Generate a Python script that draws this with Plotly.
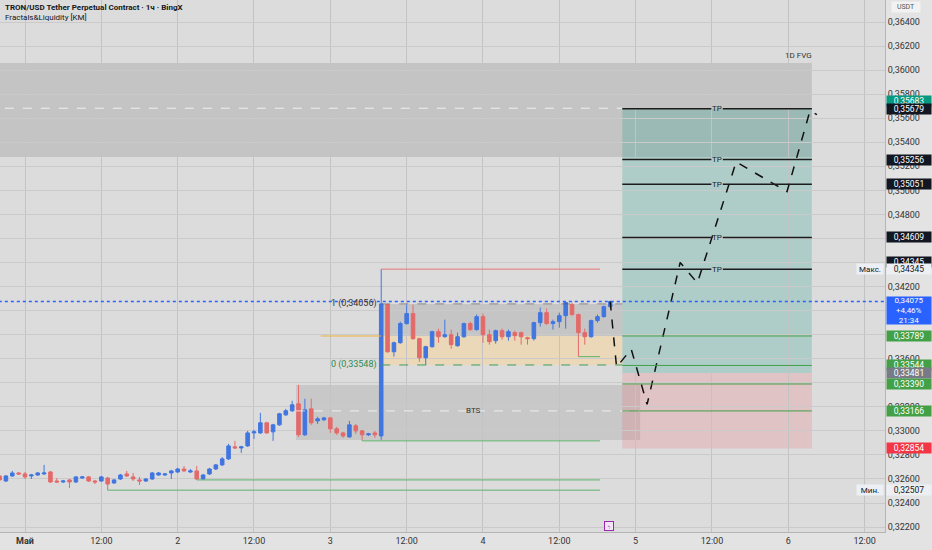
import plotly.graph_objects as go
import pandas as pd

# ---------------- data ----------------
BASE = pd.Timestamp("2025-05-01 00:00")
hours = list(range(-4, 93))  # 1h candles, hour offsets from 1 May 00:00

opens = [
    .32625, .32583, .32625, .3265, .32642, .32625, .32633, .32642, .32658, .32583,
    .32575, .32592, .32575, .32608, .32617, .32583, .32583, .32608, .32567, .326,
    .32642, .32617, .32592, .32583, .326, .32633, .32633, .3265, .32658, .32683,
    .32658, .32667, .326, .32642, .32683, .32717, .32767, .32867, .32858, .32875,
    .32983, .32983, .33067, .32992, .3305, .33133, .33167, .33225, .32967, .33183,
    .33083, .33092, .33108, .33017, .32983, .3295, .33042, .33, .32967, .32983,
    .32958, .3405, .33658, .33733, .33892, .33975, .33767, .33608, .337, .33825,
    .33783, .338, .33708, .33783, .33892, .33842, .3395, .338, .3375, .33833,
    .33783, .33817, .33817, .33775, .33767, .339, .33983, .33892, .33908, .33958,
    .3405, .33967, .33817, .33783, .33917, .3395, .34033]
highs = [
    .32633, .32633, .32667, .32658, .32658, .32642, .32658, .32717, .32667, .32608,
    .32592, .326, .32625, .32625, .32625, .32592, .32625, .32617, .326, .32642,
    .32667, .3265, .32617, .32608, .32658, .32658, .3265, .32675, .32692, .32708,
    .32683, .32708, .32642, .32692, .32725, .32783, .32892, .32917, .32875, .33,
    .33008, .3315, .33075, .33058, .3315, .33183, .3325, .33383, .33267, .33267,
    .33117, .33117, .33117, .33033, .32992, .33083, .33058, .33008, .32983, .33,
    .34345, .34056, .33742, .33908, .3405, .3405, .33775, .33708, .33833, .3385,
    .33925, .33842, .33817, .339, .33908, .33967, .33975, .33842, .33842, .3385,
    .33842, .33833, .33825, .33783, .33908, .34025, .34017, .33925, .33983, .34075,
    .34067, .33975, .3385, .33925, .33967, .34042, .34083]
lows = [
    .32583, .32575, .32617, .32633, .326, .326, .32625, .32633, .32567, .32567,
    .32567, .32525, .32567, .326, .32575, .32558, .32575, .32507, .32558, .32592,
    .32617, .32583, .3255, .32575, .32592, .32625, .32625, .326, .3265, .32658,
    .3265, .32592, .32592, .32633, .32675, .32708, .32758, .3285, .32817, .32867,
    .32933, .32975, .32975, .32917, .33042, .33125, .33158, .3295, .32958, .3305,
    .33058, .33083, .32983, .32967, .32942, .32942, .32975, .32917, .32958, .32942,
    .32925, .3365, .33617, .33725, .33883, .33758, .33575, .33548, .33692, .33733,
    .33775, .33683, .337, .33775, .33833, .33833, .33733, .33717, .33725, .33758,
    .3375, .3375, .33717, .33717, .3375, .33867, .33883, .33842, .33858, .3385,
    .33958, .33617, .33717, .33775, .339, .33942, .34025]
closes = [
    .32592, .32625, .3265, .32642, .32617, .32633, .3265, .3265, .32575, .32575,
    .32583, .32575, .32617, .32617, .32583, .32575, .32617, .32558, .32592, .32633,
    .32625, .326, .32583, .326, .3265, .3265, .32642, .32667, .32683, .32667,
    .32667, .326, .32633, .32683, .32717, .32767, .32875, .32858, .32867, .32983,
    .32992, .33067, .32983, .3305, .33142, .33167, .33217, .32967, .33175, .33067,
    .331, .33108, .33017, .32983, .32958, .3305, .33, .32967, .32975, .32967,
    .34056, .33658, .33733, .33892, .33975, .33767, .33608, .337, .33825, .33783,
    .338, .33717, .33783, .33892, .33842, .3395, .338, .33742, .33833, .33783,
    .33825, .33792, .33783, .33767, .339, .33983, .33892, .33908, .33958, .34067,
    .33967, .33817, .33783, .33917, .3395, .34033, .34075]

# projected path (hours, price)
proj_hours = [92, 93, 95.3, 97.8, 103, 105.7, 111.8, 119.8, 123.4, 124.5]
proj_prices = [0.34075, 0.3353, 0.3368, 0.3322, 0.3440, 0.3423, 0.35236, 0.3499, 0.3566, 0.3563]

tp_levels = [0.35679, 0.35256, 0.35051, 0.34609, 0.34345]
green_levels = [0.33789, 0.33544, 0.33390, 0.33166]
entry_price = 0.33481
stop_price = 0.32854
last_price = 0.34075
max_price = 0.34345
min_price = 0.32507
range_top = 0.34056
range_mid = 0.33789
range_bot = 0.33548
fvg_top, fvg_mid, fvg_bot = 0.36059, 0.35683, 0.35277
bts_top, bts_mid, bts_bot = 0.33381, 0.33166, 0.32925

tick_hours = list(range(0, 133, 12))
tick_text = ["<b>Май</b>", "12:00", "2", "12:00", "3", "12:00", "4", "12:00", "5", "12:00", "6", "12:00"]

price_ticks = [0.322, 0.324, 0.326, 0.328, 0.330, 0.332, 0.334, 0.336, 0.338, 0.340, 0.342,
               0.344, 0.346, 0.348, 0.350, 0.352, 0.354, 0.356, 0.358, 0.360, 0.362, 0.364]
price_tick_text = ["0,32200", "0,32400", "0,32600", "0,32800", "0,33000", "0,33200", "", "0,33600", "",
                   "", "0,34200", "", "", "0,34800", "0,35000", "0,35200", "0,35400", "0,35600",
                   "0,35800", "0,36000", "0,36200", "0,36400"]

# ---------------- helpers ----------------
def t(h):
    return BASE + pd.Timedelta(hours=h)

BLUE = "#4176e0"
RED = "#e46a6a"
FONT = "Roboto"

shapes = []

def rect(h0, h1, p0, p1, fill, layer="below"):
    shapes.append(dict(type="rect", xref="x", yref="y", x0=t(h0), x1=t(h1), y0=p0, y1=p1,
                       fillcolor=fill, line=dict(width=0), layer=layer))

def hline(h0, h1, p, color, width=1, dash="solid", layer="above"):
    shapes.append(dict(type="line", xref="x", yref="y", x0=t(h0), x1=t(h1), y0=p, y1=p,
                       line=dict(color=color, width=width, dash=dash), layer=layer))

BOX_L, BOX_R = 93.9, 123.7

# zones
rect(-6, BOX_R, fvg_bot, fvg_top, "rgba(135,135,135,0.28)")
hline(-6, BOX_L, fvg_mid, "rgba(255,255,255,0.75)", 1, "dash")
rect(42.6, 96.7, bts_bot, bts_top, "rgba(120,120,120,0.20)")
hline(42.6, 96.7, bts_mid, "rgba(255,255,255,0.7)", 1, "dash")
rect(BOX_L, BOX_R, entry_price, tp_levels[0], "rgba(8,153,129,0.21)")
rect(BOX_L, BOX_R, stop_price, entry_price, "rgba(242,54,69,0.15)")
rect(56, BOX_L, range_mid, range_top, "rgba(120,120,120,0.22)")
rect(56, BOX_L, range_bot, range_mid, "rgba(255,210,130,0.40)")

# liquidity / fractal lines
hline(56, 90.4, max_price, "#e57373", 1)
hline(53, 90.4, 0.32917, "#5cb36a", 1)
hline(27, 90.4, 0.32592, "#5cb36a", 1)
hline(13, 90.4, min_price, "#5cb36a", 1)
hline(87, 90.4, 0.33617, "#5cb36a", 1)
hline(46.5, 56, range_mid, "#f2b33d", 1)
hline(56, BOX_L, range_top, "rgba(90,90,90,0.6)", 1, "dash")
hline(56, BOX_L, range_bot, "#3f9e5a", 1, "dash")

# TP lines with gap for label
for lv in tp_levels:
    hline(BOX_L, 107.9, lv, "#1c1c1c", 1.5)
    hline(109.7, BOX_R, lv, "#1c1c1c", 1.5)
for lv in green_levels:
    hline(BOX_L, BOX_R, lv, "#43a047", 1)

# current price dotted line
hline(-6, 140, last_price, "#2962ff", 1.5, "dot")

fig = go.Figure()
fig.add_trace(go.Candlestick(
    x=[t(h) for h in hours], open=opens, high=highs, low=lows, close=closes,
    increasing=dict(line=dict(color=BLUE, width=1), fillcolor=BLUE),
    decreasing=dict(line=dict(color=RED, width=1), fillcolor=RED),
    whiskerwidth=0, showlegend=False, hoverinfo="skip"))

fig.add_trace(go.Scatter(
    x=[t(h) for h in proj_hours], y=proj_prices, mode="lines",
    line=dict(color="#111111", width=1.5, dash="dash"), showlegend=False, hoverinfo="skip"))

ann = []

def txt(h, p, s, size=8, color="#333333", xanchor="center", yanchor="middle", **kw):
    ann.append(dict(x=t(h), y=p, xref="x", yref="y", text=s, showarrow=False,
                    font=dict(family=FONT, size=size, color=color), xanchor=xanchor, yanchor=yanchor, **kw))

for lv in tp_levels:
    txt(108.8, lv, "TP", 8, "#222222")
txt(121.6, 0.3612, "1D FVG", 8, "#333333")
txt(70.5, bts_mid, "BTS", 8, "#333333")
txt(55.6, range_top, "1 (0,34056)", 9, "#333333", xanchor="right")
txt(55.6, range_bot, "0 (0,33548)", 9, "#2e8b4f", xanchor="right")

def axlabel(p, s, bg, fg="#ffffff", yshift=0, height=10):
    ann.append(dict(x=1, xref="paper", y=p, yref="y", text=s, showarrow=False, xanchor="left",
                    xshift=1, yshift=yshift, width=44, height=height, bgcolor=bg, borderpad=0,
                    font=dict(family=FONT, size=8.5, color=fg), align="center"))

axlabel(fvg_mid, "0,35683", "#089981", yshift=7)
axlabel(tp_levels[0], "0,35679", "#131722")
axlabel(tp_levels[1], "0,35256", "#131722")
axlabel(tp_levels[2], "0,35051", "#131722")
axlabel(tp_levels[3], "0,34609", "#131722")
axlabel(tp_levels[4], "0,34345", "#131722", yshift=7)
axlabel(max_price, "0,34345", "#eceff4", "#131722")
axlabel(green_levels[0], "0,33789", "#43a047")
axlabel(green_levels[1], "0,33544", "#43a047")
axlabel(entry_price, "0,33481", "#787b86")
axlabel(green_levels[2], "0,33390", "#43a047")
axlabel(green_levels[3], "0,33166", "#43a047")
axlabel(stop_price, "0,32854", "#f23645")
axlabel(min_price, "0,32507", "#eceff4", "#131722")
ann.append(dict(x=1, xref="paper", y=last_price, yref="y", text="0,34075<br>+4,46%<br>21:34",
                showarrow=False, xanchor="left", yanchor="top", xshift=1, yshift=6, width=44, height=27,
                bgcolor="#2962ff", borderpad=0, font=dict(family=FONT, size=8, color="#ffffff"), align="center"))
for p in (max_price, min_price):
    ann.append(dict(x=1, xref="paper", y=p, yref="y", text="Макс." if p == max_price else "Мин.",
                    showarrow=False, xanchor="right", xshift=-1, width=26, height=10, bgcolor="#eceff4",
                    borderpad=0, font=dict(family=FONT, size=8, color="#131722")))
ann.append(dict(x=1, xref="paper", y=1, yref="paper", text="USDT", showarrow=False, xanchor="left",
                yanchor="top", xshift=6, yshift=-1, width=28, height=10, bgcolor="#f2f2f2", borderpad=0,
                font=dict(family=FONT, size=7, color="#555555")))
ann.append(dict(x=0, xref="paper", y=1, yref="paper", text="<b>TRON/USD Tether Perpetual Contract · 1ч · BingX</b>",
                showarrow=False, xanchor="left", yanchor="top", xshift=3, yshift=-1,
                font=dict(family=FONT, size=8, color="#131722")))
ann.append(dict(x=0, xref="paper", y=1, yref="paper", text="Fractals&Liquidity [KM]",
                showarrow=False, xanchor="left", yanchor="top", xshift=3, yshift=-11,
                font=dict(family=FONT, size=8, color="#131722")))
ann.append(dict(x=t(91.8), xref="x", y=0, yref="paper", text="ϟ", showarrow=False, yanchor="bottom",
                yshift=1, font=dict(size=6, color="#9c27b0"), bordercolor="#9c27b0", borderwidth=1,
                borderpad=0, width=8, height=8, bgcolor="#f3e5f5"))

fig.update_layout(
    width=932, height=550, margin=dict(l=0, r=47, t=0, b=18),
    paper_bgcolor="#e3e3e3", plot_bgcolor="#dcdcdc",
    separators=", ", shapes=shapes, annotations=ann, boxgap=0.2,
    font=dict(family=FONT, size=9, color="#333333"),
    xaxis=dict(type="date", range=[t(-3.93), t(135.2)], tickvals=[t(h) for h in tick_hours],
               ticktext=tick_text, showgrid=True, gridcolor="#c3c3c3", gridwidth=1,
               rangeslider=dict(visible=False), showline=True, linecolor="#b5b5b5",
               ticks="", tickfont=dict(size=9, color="#333333"), fixedrange=True, automargin=False),
    yaxis=dict(side="right", range=[0.32159, 0.36583], tickvals=price_ticks, ticktext=price_tick_text,
               showgrid=True, gridcolor="#cacaca", showline=True, linecolor="#b5b5b5", ticks="",
               tickfont=dict(size=9, color="#333333"), automargin=False, zeroline=False),
)

fig.write_html("out.html", config={"displayModeBar": False},
               post_script="document.body.style.margin='0';document.body.style.padding='0';")
